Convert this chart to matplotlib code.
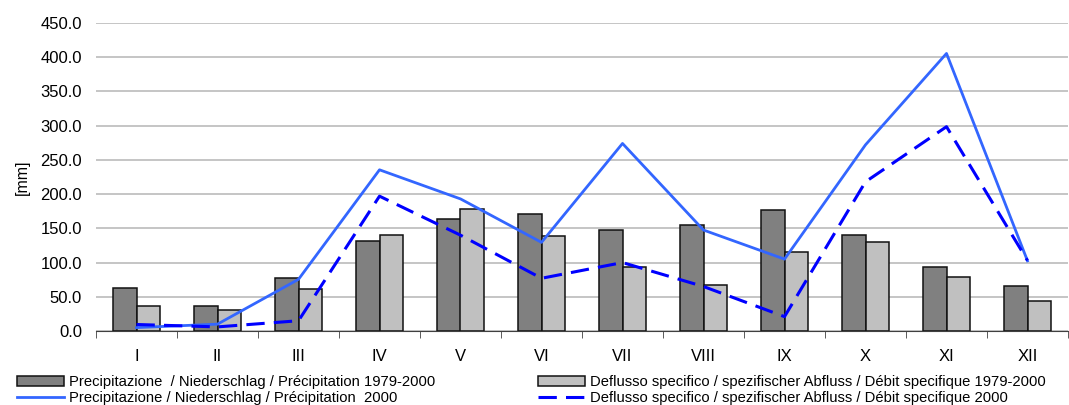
import matplotlib
matplotlib.use("Agg")
import matplotlib.pyplot as plt
import numpy as np

plt.rcParams["font.family"] = ["Liberation Sans", "DejaVu Sans"]

months = ["I", "II", "III", "IV", "V", "VI", "VII", "VIII", "IX", "X", "XI", "XII"]
precip_mean = [63.5, 36.0, 77.0, 132.0, 163.0, 170.5, 147.5, 155.5, 176.5, 140.5, 93.0, 65.5]
runoff_mean = [36.0, 30.0, 62.0, 140.0, 178.5, 139.5, 94.0, 67.0, 116.0, 129.5, 79.0, 44.0]
precip_2000 = [5.0, 10.0, 75.5, 235.5, 193.0, 129.5, 274.0, 147.5, 105.0, 272.0, 405.5, 102.5]
runoff_2000 = [9.5, 6.0, 15.0, 197.0, 140.0, 77.0, 100.0, 65.0, 21.0, 218.0, 298.5, 103.0]

lab_p_mean = "Precipitazione  / Niederschlag / Précipitation 1979-2000"
lab_q_mean = "Deflusso specifico / spezifischer Abfluss / Débit specifique 1979-2000"
lab_p_2000 = "Precipitazione / Niederschlag / Précipitation  2000"
lab_q_2000 = "Deflusso specifico / spezifischer Abfluss / Débit specifique 2000"

fig = plt.figure(figsize=(10.69, 4.05), dpi=100)
ax = fig.add_axes([96 / 1069, 1 - 331 / 405, 972 / 1069, 308 / 405])

x = np.arange(len(months))
w = 0.29
b1 = ax.bar(x - w / 2, precip_mean, w, color="#808080", edgecolor="#111111",
            linewidth=1.1, zorder=2, label=lab_p_mean)
b2 = ax.bar(x + w / 2, runoff_mean, w, color="#c0c0c0", edgecolor="#111111",
            linewidth=1.1, zorder=2, label=lab_q_mean)
l1, = ax.plot(x, precip_2000, color="#3366ff", linewidth=2.0, zorder=3,
              label=lab_p_2000)
l2, = ax.plot(x, runoff_2000, color="#0000ff", linewidth=2.2, dashes=(6, 3),
              zorder=3, label=lab_q_2000)

ax.set_xlim(-0.5, len(months) - 0.5)
ax.set_ylim(0, 450)
ax.set_yticks(np.arange(0, 451, 50))
ax.set_yticklabels([f"{v:.1f}" for v in np.arange(0, 451, 50)], fontsize=12)
ax.yaxis.grid(True, color="#c0c0c0", linewidth=1.3, zorder=0)
ax.set_axisbelow(True)
ax.tick_params(axis="y", length=0, pad=10)

# month labels centred, tick marks on the category boundaries
ax.set_xticks(x)
ax.set_xticklabels(months, fontsize=12)
ax.tick_params(axis="x", which="major", length=0, pad=13)
ax.set_xticks(np.arange(-0.5, len(months) + 0.5, 1), minor=True)
ax.tick_params(axis="x", which="minor", length=5, color="#404040", direction="out")

for side in ("top", "right", "left"):
    ax.spines[side].set_visible(False)
ax.spines["bottom"].set_color("#404040")

ax.set_ylabel("[mm]", fontsize=11.5)
ax.yaxis.set_label_coords(-0.068, 0.5)

leg_kw = dict(loc="upper left", frameon=False, fontsize=10.6, handlelength=3.2,
              handletextpad=0.3, labelspacing=0.12, borderpad=0, borderaxespad=0)
fig.legend(handles=[b1, l1], bbox_to_anchor=(17 / 1069, 1 - 375 / 405), **leg_kw)
fig.legend(handles=[b2, l2], bbox_to_anchor=(538 / 1069, 1 - 375 / 405), **leg_kw)

fig.savefig("out.png", dpi=100)
